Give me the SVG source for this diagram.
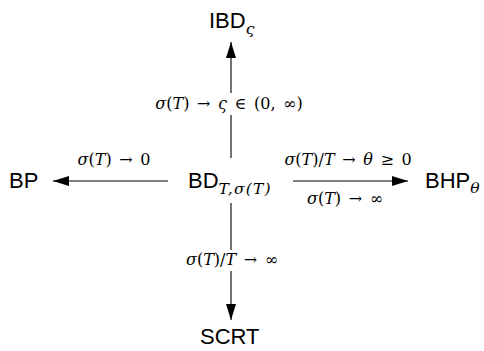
<svg xmlns="http://www.w3.org/2000/svg" width="484" height="351" viewBox="0 0 484 351">
<style>
.node{font-family:"Liberation Sans",Arial,sans-serif;font-size:22px;fill:#000}
.sub{font-family:"DejaVu Serif","Liberation Serif",serif;font-style:italic;font-size:15.5px}
.lbl{font-family:"DejaVu Serif","Liberation Serif",serif;font-size:16px;word-spacing:2.5px;fill:#000;text-anchor:middle}
.it{font-style:italic}
.ln{stroke:#000;stroke-width:1.1;fill:none}
</style>
<defs>
<marker id="ah" viewBox="0 0 16 10" refX="16" refY="5" markerWidth="16" markerHeight="10" markerUnits="userSpaceOnUse" orient="auto">
<path d="M0,0 L16,5 L0,10 z" fill="#000"/>
</marker>
</defs>
<rect width="484" height="351" fill="#fff"/>
<g id="connectors">
<line class="ln" x1="231" y1="158" x2="231" y2="42" marker-end="url(#ah)"/>
<line class="ln" x1="168" y1="181" x2="53" y2="181" marker-end="url(#ah)"/>
<line class="ln" x1="293" y1="181" x2="408" y2="181" marker-end="url(#ah)"/>
<line class="ln" x1="231" y1="203" x2="231" y2="320" marker-end="url(#ah)"/>
<rect x="155" y="93" width="152" height="22" fill="#fff"/>
<rect x="174" y="250" width="116" height="21" fill="#fff"/>
<text class="lbl" x="229" y="109"><tspan class="it">σ</tspan>(<tspan class="it">T</tspan>) → <tspan class="it">ς</tspan> ∈ (0, ∞)</text>
<text class="lbl" x="114" y="165"><tspan class="it">σ</tspan>(<tspan class="it">T</tspan>) → 0</text>
<text class="lbl" x="348" y="165"><tspan class="it">σ</tspan>(<tspan class="it">T</tspan>)/<tspan class="it">T</tspan> → <tspan class="it">θ</tspan> ≥ 0</text>
<text class="lbl" x="345" y="204"><tspan class="it">σ</tspan>(<tspan class="it">T</tspan>) → ∞</text>
<text class="lbl" x="232" y="265"><tspan class="it">σ</tspan>(<tspan class="it">T</tspan>)/<tspan class="it">T</tspan> → ∞</text>
</g>
<g id="IBD"><text class="node" x="209" y="28">IBD<tspan class="sub" font-size="13" dy="6">ς</tspan></text></g>
<g id="BP"><text class="node" x="9" y="188">BP</text></g>
<g id="BD"><text class="node" x="188" y="188">BD<tspan class="sub" dy="6" letter-spacing="1.2">T,σ(T)</tspan></text></g>
<g id="BHP"><text class="node" x="425" y="188">BHP<tspan class="sub" dy="5">θ</tspan></text></g>
<g id="SCRT"><text class="node" x="200" y="344">SCRT</text></g>
</svg>
